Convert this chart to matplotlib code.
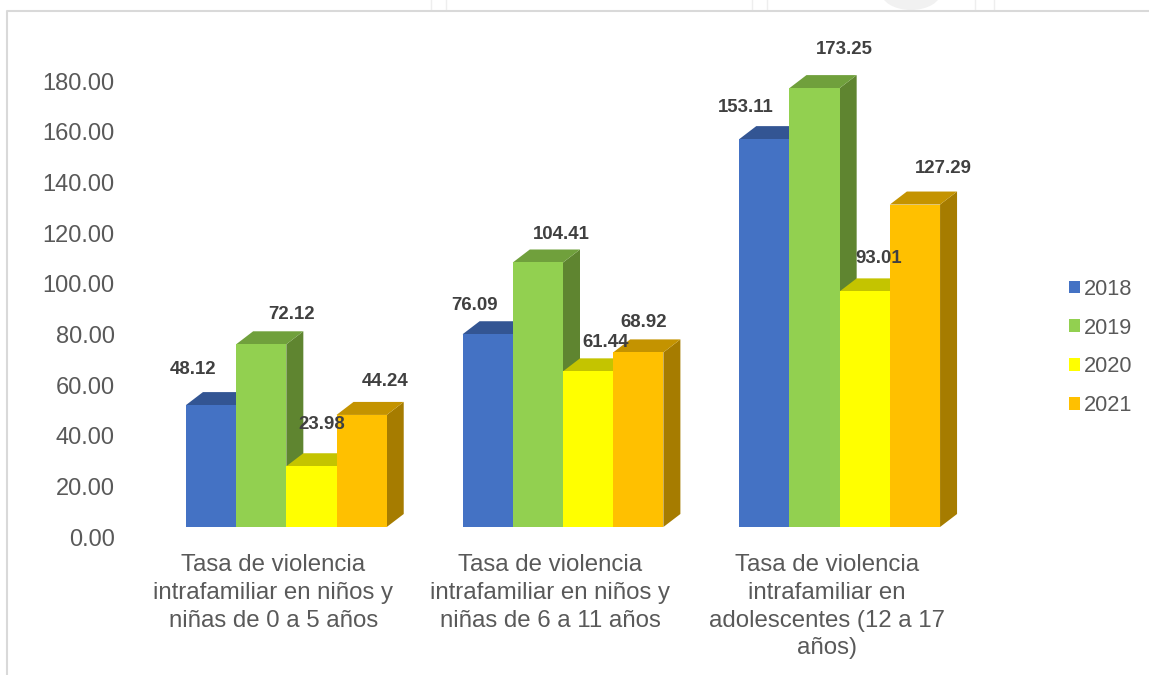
import matplotlib
matplotlib.use('Agg')
import matplotlib.pyplot as plt
from matplotlib.patches import Polygon, Patch, Ellipse
from matplotlib.lines import Line2D
from matplotlib.transforms import ScaledTranslation

plt.rcParams['font.family'] = ['Liberation Sans', 'DejaVu Sans']

# Datos
categorias = ['Tasa de violencia\nintrafamiliar en niños y\nniñas de 0 a 5 años',
              'Tasa de violencia\nintrafamiliar en niños y\nniñas de 6 a 11 años',
              'Tasa de violencia\nintrafamiliar en\nadolescentes (12 a 17\naños)']
anios = ['2018', '2019', '2020', '2021']
v2018 = [48.12, 76.09, 153.11]
v2019 = [72.12, 104.41, 173.25]
v2020 = [23.98, 61.44, 93.01]
v2021 = [44.24, 68.92, 127.29]
series = [v2018, v2019, v2020, v2021]
y_ticks = [0, 20, 40, 60, 80, 100, 120, 140, 160, 180]

# Estilo
col_front = ['#4472C4', '#92D050', '#FFFF00', '#FFC000']
col_top = ['#335593', '#70A03C', '#C4C400', '#C49300']
col_side = ['#2A4A80', '#5F8530', '#A6A600', '#A67C00']
col_text = '#595959'
col_label = '#404040'

# Decalage manuel des etiquettes (px), par serie puis par groupe
label_dx = [[-18, -13, -19], [30, 23, 30], [10, 18, 14], [24, 5, 28]]
label_dy = [[36, 29, 32], [30, 28, 39], [42, 29, 33], [33, 30, 36]]

W, H = 1149, 675
fig = plt.figure(figsize=(W / 100, H / 100), dpi=100)
ax = fig.add_axes([148 / W, (H - 527) / H, 830 / W, 456 / H])
ax.set_xlim(-0.5, 2.5)
ax.set_ylim(0, 180)
ax.patch.set_alpha(0)
for s in ax.spines.values():
    s.set_visible(False)

bar_w = 50.2 / 276.7
depth_x = 17 / 276.7
depth_y = 13 / (456 / 180)

# Barres avec faces 3D, dessinees de gauche a droite
z = 2
for i, vals in enumerate(series):
    for j, v in enumerate(vals):
        x0 = j + (i - 2) * bar_w
        x1 = x0 + bar_w
        side = Polygon([(x1, 0), (x1 + depth_x, depth_y), (x1 + depth_x, v + depth_y), (x1, v)],
                       closed=True, fc=col_side[i], ec='none', zorder=z + i * 3, clip_on=False)
        top = Polygon([(x0, v), (x0 + depth_x, v + depth_y), (x1 + depth_x, v + depth_y), (x1, v)],
                      closed=True, fc=col_top[i], ec='none', zorder=z + i * 3 + 1, clip_on=False)
        ax.add_patch(side)
        ax.add_patch(top)
        ax.bar(x0, v, width=bar_w, align='edge', color=col_front[i], zorder=z + i * 3 + 2)
        ax.annotate(f'{v:.2f}', (x0 + bar_w / 2, v), xytext=(label_dx[i][j] * 0.72, label_dy[i][j] * 0.72),
                    textcoords='offset points', ha='center', va='center', fontsize=13.4,
                    fontweight='bold', color=col_label, zorder=30)

ax.set_yticks(y_ticks)
ax.set_yticklabels([f'{t:.2f}' for t in y_ticks], fontsize=17, color=col_text)
ax.set_xticks(range(3))
ax.set_xticklabels(categorias, fontsize=17.3, color=col_text, linespacing=1.34, va='top')
ax.tick_params(axis='y', length=0, pad=24)
ax.tick_params(axis='x', length=0, pad=19.5)

# Le plancher 3D decale les graduations
for lab in ax.get_yticklabels():
    lab.set_transform(lab.get_transform() + ScaledTranslation(0, -10 / 100, fig.dpi_scale_trans))
for lab in ax.get_xticklabels():
    lab.set_transform(lab.get_transform() + ScaledTranslation(-13 / 100, 0, fig.dpi_scale_trans))

handles = [Patch(fc=c, ec='none') for c in col_front]
fig.legend(handles, anios, loc='center left', bbox_to_anchor=(1069 / W, 1 - 347.5 / H), frameon=False,
           fontsize=15.7, labelcolor=col_text, handlelength=0.52, handleheight=0.52,
           handletextpad=0.16, labelspacing=0.82, borderpad=0, borderaxespad=0)

# Filigrane du document, au-dessus du cadre
for xp in [431, 446, 752, 767, 975, 994]:
    fig.add_artist(Line2D([xp / W, xp / W], [1 - 10 / H, 1], color='#EEEEEE', lw=1))
fig.add_artist(Ellipse((911 / W, 1 + 8 / H), 60 / W, 36 / H, fc='#F1F1F1', ec='none'))

# Cadre
fig.add_artist(Line2D([7 / W, 7 / W, 1], [0, 1 - 11 / H, 1 - 11 / H], color='#D9D9D9', lw=1.5))

fig.savefig('out.png', dpi=100)
